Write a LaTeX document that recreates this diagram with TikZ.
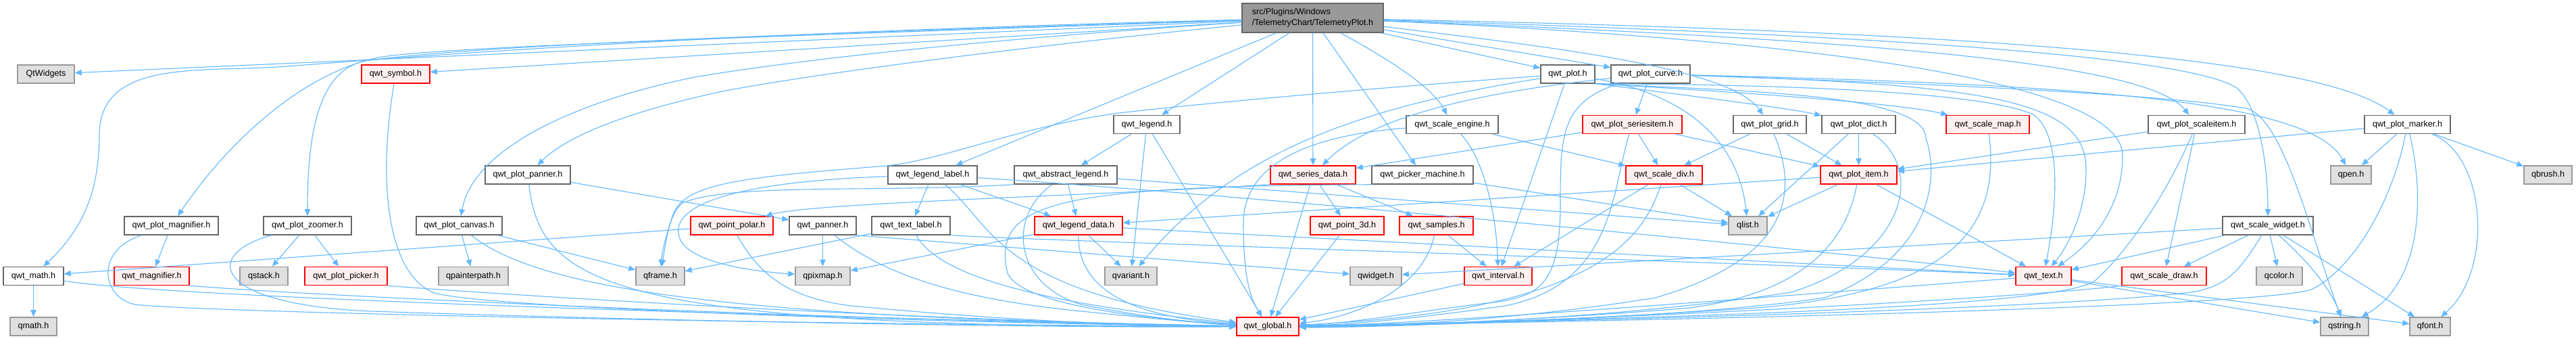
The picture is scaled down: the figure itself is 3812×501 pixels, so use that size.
\documentclass[tikz,border=0pt]{standalone}
\usepackage{fontspec}
\setmainfont{Liberation Sans}
\usepackage{xcolor}
\usetikzlibrary{arrows.meta}
\definecolor{depblue}  {HTML}{63B8FF}
\definecolor{boxgray}  {HTML}{666666}
\definecolor{sysfill}  {HTML}{E0E0E0}
\definecolor{sysline}  {HTML}{999999}
\definecolor{cutfill}  {HTML}{FFF0F0}
\definecolor{cutline}  {HTML}{FF0000}
\definecolor{rootfill} {HTML}{999999}

\begin{document}
\begin{tikzpicture}[x=0.5pt,y=-0.5pt,font=\fontsize{6.3}{8}\selectfont,
    hdr/.style={draw=boxgray,fill=white,line width=0.75pt,minimum height=13.5pt,inner sep=0pt},
    sys/.style={hdr,draw=sysline,fill=sysfill},
    cut/.style={hdr,draw=cutline,fill=cutfill},
    wd/.style={minimum width=#1*0.5pt},
    dep/.style={depblue,line width=0.55pt,-{Triangle[length=5pt,width=4.2pt]}}]
    \useasboundingbox (0,0) rectangle (3812,501);

    % root header
    \node[hdr,fill=rootfill,wd=209,minimum height=21.5pt,align=left] (tplot) at (1942.5,26.5)
      {src/Plugins/Windows\\/TelemetryChart/TelemetryPlot.h};

    % first level
    \node[sys,wd=84]  (qtw)   at (68,109.5)     {QtWidgets};
    \node[cut,wd=101] (sym)   at (585.5,109.5)  {qwt\_symbol.h};
    \node[hdr,wd=80]  (qplot) at (2320,109.5)   {qwt\_plot.h};
    \node[hdr,wd=117] (curve) at (2442.5,109.5) {qwt\_plot\_curve.h};

    \node[hdr,wd=98]  (legend) at (1697,184)   {qwt\_legend.h};
    \node[hdr,wd=136] (seng)   at (2149,184)   {qwt\_scale\_engine.h};
    \node[cut,wd=147] (sitem)  at (2415.5,184) {qwt\_plot\_seriesitem.h};
    \node[hdr,wd=108] (grid)   at (2619,184)   {qwt\_plot\_grid.h};
    \node[hdr,wd=109] (dict)   at (2750.5,184) {qwt\_plot\_dict.h};
    \node[cut,wd=123] (smap)   at (2941.5,184) {qwt\_scale\_map.h};
    \node[hdr,wd=143] (scit)   at (3250.5,184) {qwt\_plot\_scaleitem.h};
    \node[hdr,wd=127] (marker) at (3562.5,184) {qwt\_plot\_marker.h};

    \node[hdr,wd=126] (ppan)   at (781,258.5)    {qwt\_plot\_panner.h};
    \node[hdr,wd=132] (llab)   at (1380,258.5)   {qwt\_legend\_label.h};
    \node[hdr,wd=152] (aleg)   at (1577,258.5)   {qwt\_abstract\_legend.h};
    \node[cut,wd=126] (sdata)  at (1943,258.5)   {qwt\_series\_data.h};
    \node[hdr,wd=150] (pmach)  at (2105,258.5)   {qwt\_picker\_machine.h};
    \node[cut,wd=113] (sdiv)   at (2462.5,258.5) {qwt\_scale\_div.h};
    \node[cut,wd=113] (pitem)  at (2750.5,258.5) {qwt\_plot\_item.h};
    \node[sys,wd=60]  (qpen)   at (3479,258.5)   {qpen.h};
    \node[sys,wd=71]  (qbrush) at (3770.5,258.5) {qbrush.h};

    \node[hdr,wd=139] (pmag)    at (253.5,333.5)  {qwt\_plot\_magnifier.h};
    \node[hdr,wd=130] (zoom)    at (455,333.5)    {qwt\_plot\_zoomer.h};
    \node[hdr,wd=127] (canvas)  at (679.5,333.5)  {qwt\_plot\_canvas.h};
    \node[cut,wd=122] (ppolar)  at (1083,333.5)   {qwt\_point\_polar.h};
    \node[hdr,wd=99]  (panner)  at (1217.5,333.5) {qwt\_panner.h};
    \node[hdr,wd=116] (tlab)    at (1348,333.5)   {qwt\_text\_label.h};
    \node[cut,wd=130] (ldata)   at (1596,333.5)   {qwt\_legend\_data.h};
    \node[cut,wd=109] (p3d)     at (1993.5,333.5) {qwt\_point\_3d.h};
    \node[cut,wd=109] (samples) at (2125.5,333.5) {qwt\_samples.h};
    \node[sys,wd=57]  (qlist)   at (2586.5,333.5) {qlist.h};
    \node[hdr,wd=134] (swid)    at (3356,333.5)   {qwt\_scale\_widget.h};

    \node[hdr,wd=89]  (math)   at (49.5,408)   {qwt\_math.h};
    \node[cut,wd=111] (magn)   at (224.5,408)  {qwt\_magnifier.h};
    \node[sys,wd=71]  (qstack) at (390.5,408)  {qstack.h};
    \node[cut,wd=122] (ppick)  at (512,408)    {qwt\_plot\_picker.h};
    \node[sys,wd=103] (qpath)  at (700.5,408)  {qpainterpath.h};
    \node[sys,wd=72]  (qframe) at (977,408)    {qframe.h};
    \node[sys,wd=81]  (qpix)   at (1217.5,408) {qpixmap.h};
    \node[sys,wd=77]  (qvar)   at (1673.5,408) {qvariant.h};
    \node[sys,wd=76]  (qwid)   at (2036,408)   {qwidget.h};
    \node[cut,wd=100] (intv)   at (2217,408)   {qwt\_interval.h};
    \node[cut,wd=82]  (text)   at (3024,408)   {qwt\_text.h};
    \node[cut,wd=125] (sdraw)  at (3202.5,408) {qwt\_scale\_draw.h};
    \node[sys,wd=68]  (qcolor) at (3373,408)   {qcolor.h};

    \node[sys,wd=69] (qmath)   at (49.5,482.5) {qmath.h};
    \node[cut,wd=92] (global)  at (1876,482.5) {qwt\_global.h};
    \node[sys,wd=71] (qstring) at (3469.5,482.5) {qstring.h};
    \node[sys,wd=60] (qfont)   at (3596,482.5) {qfont.h};

    % straight includes
    \foreach \a/\b in {tplot/qtw,tplot/sym,tplot/llab,tplot/legend,tplot/sdata,tplot/pmach,
        tplot/qplot,tplot/curve,qplot/intv,curve/sitem,legend/aleg,legend/qvar,legend/global,
        seng/sdiv,sitem/sdiv,sitem/sdata,sitem/pitem,grid/sdiv,grid/pitem,dict/pitem,dict/qlist,
        pitem/qlist,pitem/text,pitem/ldata,sdiv/intv,sdiv/qlist,pmach/qlist,sdata/p3d,
        sdata/samples,sdata/global,aleg/ldata,aleg/qlist,llab/tlab,llab/ldata,tlab/qframe,
        ldata/qvar,ldata/text,ldata/qpix,ppolar/math,panner/qpix,ppan/panner,canvas/qpath,
        canvas/qframe,zoom/qstack,zoom/ppick,pmag/magn,math/qmath,p3d/global,samples/intv,
        intv/global,text/qstring,text/qfont,scit/pitem,scit/sdraw,marker/pitem,marker/qpen,
        marker/qbrush,swid/qwid,swid/text,swid/sdraw,swid/qcolor,swid/qfont}
      \draw[dep] (\a) -- (\b);
    \draw[dep] (panner.south east) -- (qwid);

    % root header, curved
    \draw[dep] (tplot) .. controls (1000,50) and (600,85) .. (424,98)
      .. controls (300,108) and (147,85) .. (147,200) .. controls (147,300) and (110,350) .. (math);
    \draw[dep] (tplot) .. controls (1100,55) and (640,70) .. (560,85)
      .. controls (440,110) and (330,220) .. (pmag);
    \draw[dep] (tplot) .. controls (1100,52) and (700,68) .. (540,90)
      .. controls (470,105) and (455,200) .. (zoom);
    \draw[dep] (tplot) .. controls (1500,55) and (1200,85) .. (1028,114)
      .. controls (850,150) and (700,220) .. (canvas);
    \draw[dep] (tplot) .. controls (1500,70) and (1200,110) .. (1069,135)
      .. controls (930,165) and (840,200) .. (ppan);
    \draw[dep] (tplot) .. controls (2060,90) and (2120,130) .. (seng);
    \draw[dep] (tplot) .. controls (2300,70) and (2560,100) .. (grid);
    \draw[dep] (tplot) .. controls (2600,55) and (3141,110) .. (3141,230)
      .. controls (3141,320) and (3080,370) .. (text);
    \draw[dep] (tplot) .. controls (2800,60) and (3180,95) .. (scit);
    \draw[dep] (tplot) .. controls (2900,55) and (3250,90) .. (3310,130)
      .. controls (3345,160) and (3356,250) .. (swid);
    \draw[dep] (tplot) .. controls (3100,50) and (3450,100) .. (marker);

    % qwt_plot.h and qwt_plot_curve.h
    \draw[dep] (qplot.south east) .. controls (2450,135) and (2650,160) .. (dict);
    \draw[dep] (qplot.south east) .. controls (2500,132) and (2800,150) .. (smap);
    \draw[dep] (qplot.south east) .. controls (2700,125) and (2950,140) .. (3010,170)
      .. controls (3050,200) and (3045,300) .. (text);
    \draw[dep] (qplot) .. controls (2470,135) and (2570,190) .. (qlist);
    \draw[dep] (qplot) .. controls (2000,160) and (1820,230) .. (qvar);
    \draw[dep] (qplot) .. controls (2100,125) and (1800,150) .. (1648,168)
      .. controls (1500,190) and (1400,235) .. (1313,245)
      .. controls (1100,262) and (1010,270) .. (995,320) .. controls (985,350) and (980,370) .. (qframe);
    \draw[dep] (qplot.south east) .. controls (2600,135) and (2850,140) .. (2850,205)
      .. controls (2870,260) and (2860,380) .. (2700,440) .. controls (2500,470) and (2100,482) .. (global);
    \draw[dep] (curve) .. controls (2200,135) and (2030,170) .. (sdata);
    \draw[dep] (curve) .. controls (2950,125) and (3087,150) .. (3087,250)
      .. controls (3087,320) and (3055,370) .. (text);
    \draw[dep] (curve) .. controls (3100,125) and (3420,150) .. (qpen);
    \draw[dep] (curve) .. controls (2900,125) and (3200,140) .. (3324,160)
      .. controls (3380,175) and (3420,350) .. (qstring);
    \draw[dep] (curve) .. controls (2310,150) and (2309,200) .. (2309,300)
      .. controls (2309,420) and (2280,440) .. (2200,448) .. controls (2100,460) and (2000,478) .. (global);

    % middle rows
    \draw[dep] (seng) .. controls (2200,240) and (2215,330) .. (intv);
    \draw[dep] (seng) .. controls (1940,200) and (1840,240) .. (1840,330)
      .. controls (1840,410) and (1850,440) .. (global);
    \draw[dep] (sitem) .. controls (2385,280) and (2390,420) .. (2227,452)
      .. controls (2100,470) and (2000,480) .. (global);
    \draw[dep] (sdiv) .. controls (2430,360) and (2350,460) .. (global);
    \draw[dep] (grid) .. controls (2660,280) and (2655,380) .. (2450,440)
      .. controls (2200,480) and (2000,482) .. (global);
    \draw[dep] (dict) .. controls (2850,250) and (2820,380) .. (2650,432)
      .. controls (2400,470) and (2100,482) .. (global);
    \draw[dep] (smap) .. controls (2960,330) and (2900,430) .. (2600,455)
      .. controls (2300,475) and (2000,485) .. (global);
    \draw[dep] (pitem) .. controls (2735,340) and (2690,430) .. (2500,455)
      .. controls (2300,472) and (2000,485) .. (global);
    \draw[dep] (pmach.south west) .. controls (1560,275) and (1470,300) .. (1490,400)
      .. controls (1500,450) and (1700,472) .. (global);
    \draw[dep] (sdata.south west) .. controls (1600,290) and (1200,300) .. (ppolar);
    \draw[dep] (aleg.south west) .. controls (1300,285) and (1080,270) .. (1010,300)
      .. controls (990,315) and (985,360) .. (qframe);
    \draw[dep] (aleg) .. controls (1490,320) and (1500,420) .. (1600,450)
      .. controls (1700,470) and (1780,478) .. (global);
    \draw[dep] (llab) .. controls (1100,268) and (990,300) .. (1005,350)
      .. controls (1015,385) and (1100,400) .. (qpix);
    \draw[dep] (llab) .. controls (1800,285) and (2600,360) .. (text);
    \draw[dep] (llab) .. controls (1470,330) and (1470,430) .. (global);
    \draw[dep] (tlab.south east) .. controls (1600,358) and (2500,385) .. (text);
    \draw[dep] (tlab) .. controls (1390,410) and (1550,450) .. (global);
    \draw[dep] (ldata) .. controls (1595,440) and (1700,470) .. (global);
    \draw[dep] (samples) .. controls (2105,430) and (2000,470) .. (global);

    % left side into qwt_global.h
    \draw[dep] (sym) .. controls (560,260) and (570,400) .. (640,432)
      .. controls (700,455) and (1400,478) .. (global);
    \draw[dep] (math) .. controls (250,440) and (1200,470) .. (global);
    \draw[dep] (pmag) .. controls (140,370) and (150,440) .. (200,450)
      .. controls (300,462) and (1200,480) .. (global);
    \draw[dep] (magn.south east) .. controls (500,440) and (1300,475) .. (global);
    \draw[dep] (zoom) .. controls (300,375) and (310,450) .. (550,460)
      .. controls (900,472) and (1500,485) .. (global);
    \draw[dep] (ppick.south east) .. controls (800,440) and (1400,475) .. (global);
    \draw[dep] (canvas) .. controls (800,430) and (1100,470) .. (global);
    \draw[dep] (ppan) .. controls (800,420) and (900,485) .. (global);
    \draw[dep] (ppolar) .. controls (1120,400) and (1160,440) .. (1260,452)
      .. controls (1500,475) and (1700,482) .. (global);
    \draw[dep] (panner) .. controls (1300,400) and (1400,440) .. (1600,460)
      .. controls (1700,470) and (1780,478) .. (global);

    % right side into qwt_global.h
    \draw[dep] (text) .. controls (2600,440) and (2100,480) .. (global);
    \draw[dep] (sdraw.south west) .. controls (3000,440) and (2300,478) .. (global);
    \draw[dep] (scit) .. controls (3200,300) and (3140,380) .. (3100,415)
      .. controls (3050,450) and (2600,468) .. (global);
    \draw[dep] (marker) .. controls (3540,300) and (3480,400) .. (3420,428)
      .. controls (3350,450) and (2700,470) .. (global);
    \draw[dep] (swid) .. controls (3320,390) and (3300,425) .. (3240,432)
      .. controls (3100,450) and (2600,470) .. (global);

    % Qt headers on the right
    \draw[dep] (marker) .. controls (3590,300) and (3580,420) .. (qstring);
    \draw[dep] (marker) .. controls (3680,230) and (3690,400) .. (qfont);
    \draw[dep] (swid) .. controls (3420,390) and (3450,430) .. (qstring);
\end{tikzpicture}
\end{document}
